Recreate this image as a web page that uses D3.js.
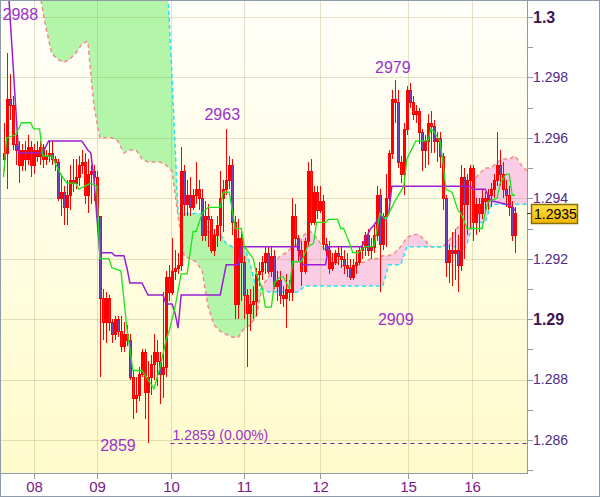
<!DOCTYPE html>
<html><head><meta charset="utf-8">
<script src="https://cdn.jsdelivr.net/npm/d3@7"></script>
<style>body{margin:0;background:#fff}svg{display:block}text{font-family:"Liberation Sans",Arial,sans-serif}</style>
</head><body><svg id="c" width="600" height="497"></svg>
<script>
// ---------- DATA ----------
const open=[1.2953,1.2955,1.2973,1.2971,1.2958,1.2956,1.2951,1.2956,1.2953,1.2957,1.2951,1.2956,1.2954,1.2957,1.2953,1.2954,1.2955,1.2953,1.2952,1.2940,
1.2942,1.2937,1.2941,1.2946,1.2945,1.2947,1.2951,1.2952,1.2941,1.2948,1.2949,1.2947,1.2934,1.2907,1.2899,1.2907,1.2899,1.2895,1.2900,1.2896,
1.2891,1.2895,1.2893,1.2881,1.2874,1.2875,1.2882,1.2889,1.2876,1.2881,1.2885,1.2889,1.2886,1.2882,1.2884,1.2914,1.2909,1.2916,1.2917,1.2918,
1.2949,1.2938,1.2941,1.2937,1.2941,1.2943,1.2940,1.2928,1.2934,1.2933,1.2923,1.2928,1.2931,1.2940,1.2943,1.2946,1.2951,1.2932,1.2905,1.2927,
1.2919,1.2908,1.2902,1.2905,1.2906,1.2915,1.2916,1.2919,1.2922,1.2916,1.2921,1.2911,1.2913,1.2908,1.2907,1.2910,1.2909,1.2934,1.2927,1.2923,
1.2916,1.2926,1.2949,1.2932,1.2942,1.2936,1.2939,1.2925,1.2923,1.2917,1.2919,1.2922,1.2921,1.2920,1.2918,1.2917,1.2914,1.2918,1.2919,1.2923,
1.2924,1.2928,1.2923,1.2924,1.2928,1.2941,1.2925,1.2934,1.2940,1.2955,1.2973,1.2972,1.2952,1.2948,1.2963,1.2976,1.2972,1.2968,1.2969,1.2962,
1.2956,1.2959,1.2965,1.2964,1.2959,1.2960,1.2954,1.2940,1.2919,1.2923,1.2922,1.2923,1.2918,1.2947,1.2938,1.2946,1.2950,1.2932,1.2938,1.2935,
1.2940,1.2939,1.2941,1.2943,1.2946,1.2951,1.2948,1.2943,1.2941,1.2937,1.2928];
const high=[1.2965,1.2988,1.2981,1.2974,1.2961,1.2959,1.2958,1.2959,1.2961,1.2959,1.2958,1.2959,1.2959,1.2958,1.2956,1.2959,1.2959,1.2954,1.2953,1.2948,
1.2944,1.2946,1.2951,1.2953,1.2953,1.2954,1.2956,1.2955,1.2953,1.2951,1.2951,1.2949,1.2934,1.2910,1.2909,1.2908,1.2900,1.2901,1.2901,1.2901,
1.2899,1.2898,1.2895,1.2883,1.2881,1.2884,1.2890,1.2890,1.2886,1.2888,1.2895,1.2893,1.2889,1.2909,1.2916,1.2918,1.2927,1.2923,1.2922,1.2957,
1.2951,1.2946,1.2947,1.2943,1.2952,1.2946,1.2943,1.2939,1.2938,1.2934,1.2930,1.2934,1.2949,1.2946,1.2963,1.2954,1.2953,1.2934,1.2933,1.2929,
1.2921,1.2910,1.2910,1.2911,1.2917,1.2919,1.2921,1.2924,1.2924,1.2924,1.2923,1.2916,1.2916,1.2911,1.2915,1.2913,1.2940,1.2938,1.2928,1.2926,
1.2927,1.2952,1.2953,1.2944,1.2944,1.2944,1.2941,1.2927,1.2926,1.2922,1.2923,1.2924,1.2924,1.2923,1.2922,1.2920,1.2920,1.2923,1.2924,1.2926,
1.2929,1.2930,1.2927,1.2931,1.2944,1.2943,1.2935,1.2948,1.2956,1.2976,1.2979,1.2976,1.2954,1.2965,1.2977,1.2978,1.2974,1.2971,1.2970,1.2963,
1.2961,1.2968,1.2969,1.2966,1.2962,1.2962,1.2955,1.2941,1.2925,1.2929,1.2930,1.2928,1.2951,1.2950,1.2948,1.2951,1.2951,1.2940,1.2940,1.2943,
1.2942,1.2943,1.2945,1.2948,1.2962,1.2956,1.2952,1.2946,1.2944,1.2939,1.2937];
const low=[1.2949,1.2943,1.2966,1.2956,1.2951,1.2945,1.2949,1.2949,1.2951,1.2947,1.2948,1.2952,1.2951,1.2950,1.2951,1.2952,1.2951,1.2949,1.2939,1.2934,
1.2931,1.2931,1.2936,1.2942,1.2943,1.2944,1.2948,1.2938,1.2935,1.2938,1.2939,1.2931,1.2881,1.2893,1.2892,1.2896,1.2892,1.2893,1.2894,1.2889,
1.2889,1.2891,1.2880,1.2867,1.2869,1.2873,1.2881,1.2867,1.2859,1.2875,1.2880,1.2878,1.2872,1.2874,1.2881,1.2906,1.2908,1.2913,1.2915,1.2916,
1.2934,1.2934,1.2934,1.2936,1.2938,1.2936,1.2926,1.2926,1.2924,1.2922,1.2921,1.2924,1.2926,1.2929,1.2941,1.2943,1.2928,1.2900,1.2900,1.2906,
1.2900,1.2884,1.2896,1.2900,1.2901,1.2911,1.2913,1.2915,1.2915,1.2914,1.2910,1.2906,1.2905,1.2904,1.2897,1.2906,1.2906,1.2924,1.2919,1.2911,
1.2915,1.2924,1.2931,1.2931,1.2933,1.2935,1.2923,1.2921,1.2915,1.2916,1.2918,1.2918,1.2917,1.2915,1.2914,1.2913,1.2913,1.2915,1.2918,1.2920,
1.2921,1.2921,1.2920,1.2922,1.2926,1.2909,1.2923,1.2924,1.2939,1.2953,1.2965,1.2950,1.2945,1.2941,1.2961,1.2970,1.2966,1.2965,1.2958,1.2949,
1.2950,1.2951,1.2955,1.2955,1.2952,1.2950,1.2936,1.2914,1.2912,1.2911,1.2913,1.2909,1.2916,1.2920,1.2928,1.2930,1.2926,1.2928,1.2929,1.2933,
1.2935,1.2936,1.2937,1.2940,1.2944,1.2944,1.2940,1.2937,1.2934,1.2926,1.2922];
const close=[1.2955,1.2973,1.2971,1.2958,1.2956,1.2951,1.2956,1.2953,1.2957,1.2951,1.2956,1.2954,1.2957,1.2953,1.2954,1.2955,1.2953,1.2952,1.2940,1.2942,
1.2937,1.2941,1.2946,1.2945,1.2947,1.2951,1.2952,1.2941,1.2948,1.2949,1.2947,1.2934,1.2907,1.2899,1.2907,1.2899,1.2895,1.2900,1.2896,1.2891,
1.2895,1.2893,1.2881,1.2874,1.2875,1.2882,1.2889,1.2876,1.2881,1.2885,1.2889,1.2886,1.2882,1.2884,1.2914,1.2909,1.2916,1.2917,1.2918,1.2949,
1.2938,1.2941,1.2937,1.2941,1.2943,1.2940,1.2928,1.2934,1.2933,1.2923,1.2928,1.2931,1.2940,1.2943,1.2946,1.2951,1.2932,1.2905,1.2927,1.2919,
1.2908,1.2902,1.2905,1.2906,1.2915,1.2916,1.2919,1.2922,1.2916,1.2921,1.2911,1.2913,1.2908,1.2907,1.2910,1.2909,1.2934,1.2927,1.2923,1.2916,
1.2926,1.2949,1.2932,1.2942,1.2936,1.2939,1.2925,1.2923,1.2917,1.2919,1.2922,1.2921,1.2920,1.2918,1.2917,1.2914,1.2918,1.2919,1.2923,1.2924,
1.2928,1.2923,1.2924,1.2928,1.2941,1.2925,1.2934,1.2940,1.2955,1.2973,1.2972,1.2952,1.2948,1.2963,1.2976,1.2972,1.2968,1.2969,1.2962,1.2956,
1.2959,1.2965,1.2964,1.2959,1.2960,1.2954,1.2940,1.2919,1.2923,1.2922,1.2923,1.2918,1.2947,1.2938,1.2946,1.2950,1.2932,1.2938,1.2935,1.2940,
1.2939,1.2941,1.2943,1.2946,1.2951,1.2948,1.2943,1.2941,1.2937,1.2928,1.2935];

// Tenkan-sen (bar index, value)
const tenkanIdx=[0,1,4,6,9,10,12,13,16,17,19,21,24,25,27,29,31,32,35,36,39,41,43,46,48,50,52,54,55,57,59,61,63,64,66,68,72,73,75,77,79,80,83,84,86,87,89,90,92,93,95,96,99,101,103,104,107,108,111,112,113,115,116,118,120,123,124,125,127,128,130,133,134,137,141,142,143,145,146,147,149,151,152,154,159,160,161,164,165,167,168,169,170];
const tenkanVal=[1.2947,1.2960,1.2961,1.2965,1.2965,1.2963,1.2963,1.2954,1.2954,1.2952,1.2948,1.2945,1.2945,1.2943,1.2944,1.2945,1.2944,1.2920,1.2920,1.2917,1.2916,1.2897,1.2883,1.2883,1.2880,1.2877,1.2884,1.2893,1.2896,1.2904,1.2915,1.2915,1.2929,1.2929,1.2935,1.2937,1.2937,1.2942,1.2942,1.2930,1.2930,1.2924,1.2920,1.2915,1.2910,1.2904,1.2904,1.2912,1.2914,1.2914,1.2910,1.2919,1.2919,1.2924,1.2925,1.2932,1.2932,1.2933,1.2933,1.2930,1.2930,1.2925,1.2922,1.2922,1.2924,1.2924,1.2929,1.2935,1.2933,1.2935,1.2939,1.2944,1.2953,1.2959,1.2959,1.2963,1.2962,1.2959,1.2952,1.2943,1.2942,1.2936,1.2935,1.2930,1.2930,1.2935,1.2939,1.2940,1.2945,1.2948,1.2948,1.2941,1.2941];
// Kijun-sen (bar index, value)
const kijunIdx=[1,5,13,15,26,28,29,30,31,32,36,37,40,41,42,46,48,53,54,56,57,58,59,72,74,78,79,98,99,107,108,119,122,123,125,127,128,129,155,156,160,162,163,167,168,170];
const kijunVal=[1.3019,1.2955,1.2955,1.2959,1.2959,1.2956,1.2955,1.2947,1.2934,1.2922,1.2922,1.2921,1.2921,1.2917,1.2912,1.2912,1.2908,1.2908,1.2905,1.2905,1.2902,1.2897,1.2908,1.2908,1.2918,1.2918,1.2924,1.2924,1.2918,1.2918,1.2924,1.2924,1.2930,1.2931,1.2934,1.2933,1.2935,1.2944,1.2944,1.2943,1.2943,1.2939,1.2939,1.2938,1.2938,1.2936];
// Senkou spans, one value every CLOUD_STEP bars starting at bar 0
const CLOUD_STEP=2;
const spanA=[1.3015,1.3015,1.3015,1.3015,1.3015,1.3012,1.3008,1.2997,1.2988,1.2986,
1.2985,1.2986,1.2988,1.2991,1.2992,1.2971,1.2960,1.2960,1.2960,1.2959,
1.2955,1.2956,1.2956,1.2953,1.2952,1.2952,1.2952,1.2951,1.2949,1.2934,
1.2921,1.2920,1.2919,1.2916,1.2904,1.2898,1.2896,1.2895,1.2894,1.2894,
1.2897,1.2898,1.2901,1.2911,1.2914,1.2919,1.2921,1.2922,1.2924,1.2925,
1.2928,1.2929,1.2927,1.2924,1.2921,1.2919,1.2918,1.2917,1.2917,1.2918,
1.2919,1.2920,1.2920,1.2921,1.2921,1.2922,1.2924,1.2927,1.2928,1.2928,
1.2926,1.2924,1.2924,1.2924,1.2926,1.2929,1.2932,1.2940,1.2946,1.2948,
1.2950,1.2950,1.2952,1.2953,1.2953,1.2954,1.2951,1.2949];
const spanB=[1.3020,1.3020,1.3020,1.3020,1.3020,1.3020,1.3020,1.3020,1.3020,1.3020,
1.3020,1.3020,1.3020,1.3020,1.3020,1.3020,1.3020,1.3020,1.3020,1.3020,
1.3020,1.3020,1.3020,1.3020,1.3020,1.3020,1.3020,1.3020,1.2980,1.2935,
1.2935,1.2935,1.2935,1.2935,1.2929,1.2928,1.2928,1.2925,1.2924,1.2924,
1.2924,1.2918,1.2910,1.2910,1.2909,1.2909,1.2909,1.2909,1.2909,1.2909,
1.2911,1.2911,1.2911,1.2911,1.2911,1.2911,1.2911,1.2911,1.2911,1.2911,
1.2911,1.2911,1.2911,1.2911,1.2918,1.2918,1.2918,1.2924,1.2924,1.2924,
1.2924,1.2924,1.2924,1.2924,1.2924,1.2924,1.2921,1.2925,1.2932,1.2932,
1.2932,1.2938,1.2938,1.2938,1.2938,1.2938,1.2938,1.2938];

const priceTicks=[1.300,1.298,1.296,1.294,1.292,1.290,1.288,1.286];
const priceTickLabels=["1.3","1.298","1.296","1.294","1.292","1.29","1.288","1.286"];
const minorTicks=[1.299,1.297,1.295,1.293,1.291,1.289,1.287,1.285];
const dayLabels=["08","09","10","11","12","15","16"];
const dayPos=[10,31,55.5,80,105,134.5,155.5];
const extremeIdx=[1,74,130,125,48];
const extremePrice=[1.2988,1.2963,1.2979,1.2909,1.2859];
const lastPrice=1.2935;
const lowLinePrice=1.2859, lowLineStartDay=2;

// ---------- SCALES ----------
const svg=d3.select('#c');
const x=d3.scaleLinear().domain([0,170]).range([3.5,515.2]);
const y=d3.scaleLinear().domain([1.286,1.300]).range([440,17]);
const PL=1,PT=1,PR=527,PB=473;

const defs=svg.append('defs');
const g0=defs.append('linearGradient').attr('id','bg').attr('x1',0).attr('y1',0).attr('x2',0).attr('y2',1);
g0.append('stop').attr('offset','0%').attr('stop-color','#fffffa');
g0.append('stop').attr('offset','100%').attr('stop-color','#fffbcc');
const g1=defs.append('linearGradient').attr('id','gold').attr('x1',0).attr('y1',0).attr('x2',0).attr('y2',1);
g1.append('stop').attr('offset','0%').attr('stop-color','#ffe04a');
g1.append('stop').attr('offset','100%').attr('stop-color','#f0b400');
defs.append('clipPath').attr('id','plotClip').append('rect').attr('x',PL).attr('y',PT).attr('width',PR-PL).attr('height',PB-PT);

svg.append('rect').attr('width',600).attr('height',497).attr('fill','#fff');
svg.append('rect').attr('x',PL).attr('y',PT).attr('width',PR-PL).attr('height',PB-PT).attr('fill','url(#bg)');

const plot=svg.append('g').attr('clip-path','url(#plotClip)');

// ---------- CLOUD ----------
const cloud=spanA.map((a,k)=>({i:k*CLOUD_STEP,a:a,b:spanB[k]}));
const areaAB=d3.area().x(d=>x(d.i)).y0(d=>y(d.a)).y1(d=>y(d.b));
defs.append('clipPath').attr('id','aboveA').append('path')
  .attr('d',d3.area().x(d=>x(d.i)).y0(-200).y1(d=>y(d.a))(cloud));
defs.append('clipPath').attr('id','belowA').append('path')
  .attr('d',d3.area().x(d=>x(d.i)).y0(d=>y(d.a)).y1(900)(cloud));
plot.append('path').attr('d',areaAB(cloud)).attr('fill','#b3f6a9').attr('clip-path','url(#aboveA)');
plot.append('path').attr('d',areaAB(cloud)).attr('fill','#fbcde4').attr('clip-path','url(#belowA)');

// ---------- GRID ----------
const grid=plot.append('g').attr('stroke','rgba(150,150,80,0.28)').attr('stroke-width',1).attr('shape-rendering','crispEdges');
priceTicks.forEach(p=>grid.append('line').attr('x1',PL).attr('x2',PR).attr('y1',Math.round(y(p))+0.5).attr('y2',Math.round(y(p))+0.5));
dayPos.forEach(d=>grid.append('line').attr('y1',PT).attr('y2',PB).attr('x1',Math.round(x(d))+0.5).attr('x2',Math.round(x(d))+0.5));

// ---------- SPAN LINES ----------
plot.append('path').attr('d',d3.line().x(d=>x(d.i)).y(d=>y(d.a))(cloud))
  .attr('fill','none').attr('stroke','#f28c8c').attr('stroke-width',1.5).attr('stroke-dasharray','4,3');
plot.append('path').attr('d',d3.line().x(d=>x(d.i)).y(d=>y(d.b))(cloud))
  .attr('fill','none').attr('stroke','#22e4f2').attr('stroke-width',1.5).attr('stroke-dasharray','4,3');

// ---------- CANDLES ----------
const cg=plot.append('g').attr('shape-rendering','crispEdges');
close.forEach((c,i)=>{
  const o=open[i], cx=Math.round(x(i))+0.5;
  cg.append('line').attr('x1',cx).attr('x2',cx).attr('y1',y(high[i])).attr('y2',y(low[i])).attr('stroke','#ff0000').attr('stroke-width',1);
  const top=Math.round(y(Math.max(o,c))), bot=Math.round(y(Math.min(o,c)));
  cg.append('rect').attr('x',cx-1).attr('y',top+0.5).attr('width',2).attr('height',Math.max(0,bot-top))
    .attr('fill',c<o?'#7048c0':'none').attr('stroke','#ff0000').attr('stroke-width',1);
});

// ---------- TENKAN / KIJUN ----------
const tk=tenkanIdx.map((v,k)=>[x(v),y(tenkanVal[k])]);
const kj=kijunIdx.map((v,k)=>[x(v),y(kijunVal[k])]);
plot.append('path').attr('d',d3.line()(kj)).attr('fill','none').attr('stroke','#9a1fd2').attr('stroke-width',1.5);
plot.append('path').attr('d',d3.line()(tk)).attr('fill','none').attr('stroke','#18e418').attr('stroke-width',1.3);

// ---------- LOW LINE ----------
const lx=x(dayPos[lowLineStartDay]);
plot.append('line').attr('x1',lx).attr('x2',PR).attr('y1',Math.round(y(lowLinePrice))+0.5).attr('y2',Math.round(y(lowLinePrice))+0.5)
  .attr('stroke','#8a1aa8').attr('stroke-width',1).attr('stroke-dasharray','4,4');
svg.append('text').attr('x',lx+2).attr('y',y(lowLinePrice)-3).attr('font-size',14).attr('fill','#9932cc')
  .text(lowLinePrice.toFixed(4)+' (0.00%)');

// ---------- EXTREME LABELS ----------
const off=[[-4,-33,'start'],[-4,-9,'middle'],[-2,-7,'middle'],[16,33,'middle'],[-30,8,'middle']];
extremeIdx.forEach((idx,k)=>{
  svg.append('text').attr('x',x(idx)+off[k][0]).attr('y',y(extremePrice[k])+off[k][1])
    .attr('text-anchor',off[k][2]).attr('font-size',16).attr('fill','#9932cc')
    .text(String(Math.round(extremePrice[k]*10000)).slice(1));
});

// ---------- AXES ----------
const ax=svg.append('g').attr('shape-rendering','crispEdges');
ax.append('line').attr('x1',PR+0.5).attr('x2',PR+0.5).attr('y1',0).attr('y2',PB+0.5).attr('stroke','#8d9ba8');
ax.append('line').attr('x1',0).attr('x2',PR+0.5).attr('y1',PB+0.5).attr('y2',PB+0.5).attr('stroke','#8d9ba8');
priceTicks.concat(minorTicks).forEach(p=>{
  const yy=Math.round(y(p))+0.5;
  ax.append('line').attr('x1',PR).attr('x2',PR+6).attr('y1',yy).attr('y2',yy).attr('stroke','#8d9ba8');
});
priceTicks.forEach((p,k)=>{
  const bold=priceTickLabels[k].length<5;
  svg.append('text').attr('x',PR+6).attr('y',y(p)).attr('dy','0.35em').attr('font-size',bold?16:14)
    .attr('font-weight',bold?'bold':'normal').attr('fill',bold?'#3e1453':'#4e2a86').text(priceTickLabels[k]);
});
dayPos.forEach((d,k)=>{
  const xx=Math.round(x(d))+0.5;
  ax.append('line').attr('x1',xx).attr('x2',xx).attr('y1',PB).attr('y2',PB+6).attr('stroke','#8d9ba8');
  svg.append('text').attr('x',xx).attr('y',PB+19).attr('text-anchor','middle').attr('font-size',15).attr('fill','#7a1a86').text(dayLabels[k]);
});

// ---------- LAST PRICE ----------
const ly=y(lastPrice);
svg.append('line').attr('x1',PR).attr('x2',PR+6).attr('y1',Math.round(ly)+0.5).attr('y2',Math.round(ly)+0.5).attr('stroke','#333');
svg.append('rect').attr('x',531.5).attr('y',Math.round(ly)-8.5).attr('width',46).attr('height',19)
  .attr('fill','url(#gold)').attr('stroke','#8a7000').attr('stroke-width',1.5);
svg.append('text').attr('x',534).attr('y',ly+1).attr('dy','0.35em').attr('font-size',14).attr('fill','#000').text(lastPrice.toFixed(4));

// frame
svg.append('rect').attr('x',0.5).attr('y',0.5).attr('width',599).attr('height',496).attr('fill','none').attr('stroke','#8d9ba8');
</script></body></html>
